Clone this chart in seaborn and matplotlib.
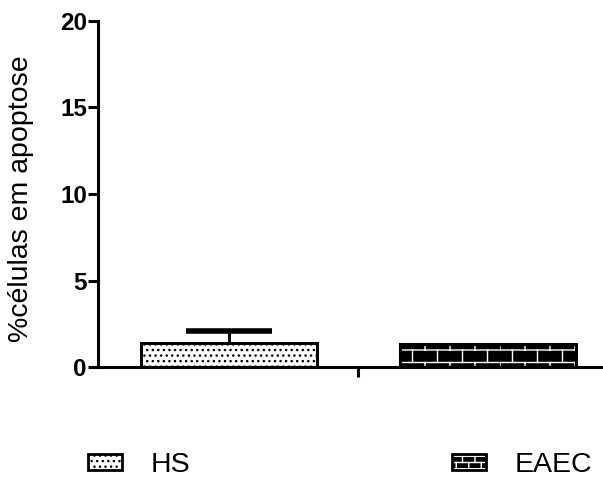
import warnings
import matplotlib
matplotlib.use("Agg")
import matplotlib.pyplot as plt
import matplotlib.patches as mpatches
from matplotlib import hatch as mhatch
from matplotlib.path import Path
from matplotlib.legend_handler import HandlerTuple
import seaborn as sns
import pandas as pd

warnings.filterwarnings("ignore")

sns.set_theme(style="ticks")
plt.rcParams['font.family'] = ['Liberation Sans', 'DejaVu Sans']
for key in ['text.color', 'axes.labelcolor', 'xtick.color', 'ytick.color', 'axes.edgecolor']:
    plt.rcParams[key] = 'black'

groups = ['HS', 'EAEC']
means = [1.4, 1.35]
sem = [0.7, 0.0]
yticks = [0, 5, 10, 15, 20]


# brick hatch pattern, triggered by the 'b' character (more b's = smaller bricks)
class BrickHatch(mhatch.HatchPatternBase):
    def __init__(self, hatch, density):
        self.n = 4 * hatch.count('b')
        n = self.n
        self.num_vertices = n * (4 + 4 * n)

    def set_vertices_and_codes(self, vertices, codes):
        n = self.n
        k = 0
        step = 1.0 / n
        for i in range(n):
            y0 = i * step
            y1 = y0 + step / 2
            y2 = y0 + step
            segs = [((0, y0), (1, y0)), ((0, y1), (1, y1))]
            for j in range(n):
                x0 = j * step
                segs.append(((x0, y0), (x0, y1)))
                segs.append(((x0 + step / 2, y1), (x0 + step / 2, y2)))
            for a, b in segs:
                vertices[k] = a
                vertices[k + 1] = b
                codes[k] = Path.MOVETO
                codes[k + 1] = Path.LINETO
                k += 2


mhatch._hatch_types.append(BrickHatch)

df = pd.DataFrame({'grupo': groups, 'valor': means})

fig = plt.figure(figsize=(6.03, 4.84), dpi=100)
ax = fig.add_axes([0.1625, 0.2417, 0.84, 0.715])

sns.barplot(data=df, x='grupo', y='valor', ax=ax, width=0.68,
            errorbar=None, color='white', edgecolor='black', linewidth=2.2)

# error bar, upper side only
eb = ax.errorbar([0], [means[0]], yerr=[[0], [sem[0]]], fmt='none',
                 ecolor='black', elinewidth=2.2, capsize=31, capthick=4, zorder=1)
eb[1][0].set_visible(False)

p_hs, p_eaec = ax.patches[0], ax.patches[1]
p_hs.set_hatch('...')
p_hs.set_facecolor('white')
p_hs.set_edgecolor('black')
p_eaec.set_facecolor('black')
p_eaec.set_edgecolor('white')
p_eaec.set_hatch('b')
p_eaec.set_linewidth(1.0)
# dark outline over the hatched bar
ax.bar(1, means[1], width=0.68, facecolor='none', edgecolor='black', linewidth=2.2)

ax.set_ylim(0, 20)
ax.set_xlim(-0.506, 1.45)
ax.set_yticks(yticks)
ax.set_xticks([0.5])
ax.set_xticklabels([''])
for lbl in ax.get_yticklabels():
    lbl.set_fontweight('bold')
ax.tick_params(axis='y', labelsize=17.5, width=2.2, length=7, pad=1)
ax.tick_params(axis='x', width=2.2, length=7)
ax.set_xlabel('')
ax.set_ylabel('%células em apoptose', fontsize=20.5)
ax.yaxis.set_label_coords(-0.126, 0.487)
sns.despine(ax=ax)
for s in ['left', 'bottom']:
    ax.spines[s].set_linewidth(2.2)

h_hs = mpatches.Patch(facecolor='white', edgecolor='black', hatch='...', linewidth=2)
h_eaec = (mpatches.Patch(facecolor='black', edgecolor='white', hatch='bb', linewidth=1),
          mpatches.Patch(facecolor='none', edgecolor='black', linewidth=2))
fig.legend([h_hs, h_eaec], groups, loc='center left', ncol=2, frameon=False,
           bbox_to_anchor=(0.146, 0.039), borderpad=0, borderaxespad=0,
           fontsize=20.5, columnspacing=9.2,
           handlelength=1.2, handleheight=0.5, handletextpad=1.0,
           handler_map={tuple: HandlerTuple(ndivide=1, pad=0)})

fig.savefig('out.png', dpi=100)
